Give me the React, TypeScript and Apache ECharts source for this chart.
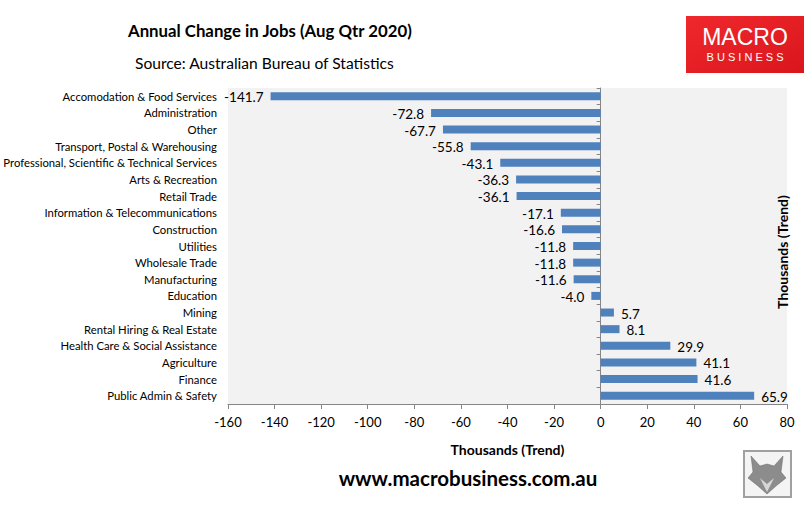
import React, { useEffect, useRef } from "react";
import * as echarts from "echarts";

const categories = [
  "Accomodation & Food Services",
  "Administration",
  "Other",
  "Transport, Postal & Warehousing",
  "Professional, Scientific & Technical Services",
  "Arts & Recreation",
  "Retail Trade",
  "Information & Telecommunications",
  "Construction",
  "Utilities",
  "Wholesale Trade",
  "Manufacturing",
  "Education",
  "Mining",
  "Rental Hiring & Real Estate",
  "Health Care & Social Assistance",
  "Agriculture",
  "Finance",
  "Public Admin & Safety",
];

const values = [
  -141.7, -72.8, -67.7, -55.8, -43.1, -36.3, -36.1, -17.1, -16.6, -11.8, -11.8,
  -11.6, -4.0, 5.7, 8.1, 29.9, 41.1, 41.6, 65.9,
];

const xTicks = { min: -160, max: 80, interval: 20 };

const titleText = "Annual Change in Jobs (Aug Qtr 2020)";
const sourceText = "Source: Australian Bureau of Statistics";
const axisName = "Thousands (Trend)";
const siteText = "www.macrobusiness.com.au";

const FONT = "Lato, 'Open Sans', sans-serif";

export default function App() {
  const ref = useRef<HTMLDivElement>(null);

  useEffect(() => {
    if (!ref.current) return;
    const chart = echarts.init(ref.current, undefined, { renderer: "svg" });

    const data = values.map((v) => ({
      value: v,
      label: {
        show: true,
        position: v < 0 ? "left" : "right",
        distance: 7,
        formatter: (p: any) => Number(p.value).toFixed(1),
        color: "#000",
        fontSize: 13.5,
        fontFamily: FONT,
        offset: [0, 1],
      },
    }));

    chart.setOption({
      animation: false,
      backgroundColor: "#fff",
      textStyle: { fontFamily: FONT },
      grid: {
        left: 226,
        right: 24,
        top: 88,
        bottom: 110,
        show: true,
        backgroundColor: "#f2f2f2",
        borderWidth: 0,
        containLabel: false,
      },
      xAxis: {
        type: "value",
        min: xTicks.min,
        max: xTicks.max,
        interval: xTicks.interval,
        splitLine: { show: false },
        axisLine: { show: true, onZero: false, lineStyle: { color: "#868686", width: 1 } },
        axisTick: { show: true, length: 5, lineStyle: { color: "#868686" } },
        axisLabel: { color: "#000", fontSize: 13, fontFamily: FONT, margin: 11 },
        name: axisName,
        nameLocation: "middle",
        nameGap: 38,
        nameTextStyle: { color: "#000", fontSize: 14, fontWeight: "bold", fontFamily: FONT },
      },
      yAxis: [
        {
          type: "category",
          data: categories,
          inverse: true,
          position: "left",
          axisLine: { show: false, onZero: false },
          axisTick: { show: false },
          axisLabel: { color: "#000", fontSize: 11.3, fontFamily: FONT, margin: 11 },
        },
        {
          type: "category",
          data: categories,
          inverse: true,
          position: "left",
          axisLine: { show: true, onZero: true, lineStyle: { color: "#868686", width: 1 } },
          axisTick: { show: true, length: 4, lineStyle: { color: "#868686" } },
          axisLabel: { show: false },
        },
      ],
      series: [
        {
          type: "bar",
          yAxisIndex: 0,
          data,
          barWidth: 8,
          itemStyle: { color: "#4f81bd" },
        },
      ],
      graphic: [
        {
          type: "text",
          x: 128,
          y: 30,
          style: {
            text: titleText,
            fill: "#000",
            fontSize: 16.8,
            fontWeight: "bold",
            fontFamily: FONT,
            verticalAlign: "middle",
          },
        },
        {
          type: "text",
          x: 135,
          y: 63,
          style: {
            text: sourceText,
            fill: "#000",
            fontSize: 15.6,
            fontFamily: FONT,
            verticalAlign: "middle",
          },
        },
        {
          type: "rect",
          shape: { x: 686, y: 16, width: 118, height: 57 },
          style: {
            fill: new echarts.graphic.LinearGradient(0, 0, 1, 1, [
              { offset: 0, color: "#f0282d" },
              { offset: 1, color: "#d9161c" },
            ]),
          },
        },
        {
          type: "text",
          x: 745,
          y: 37,
          style: {
            text: "MACRO",
            fill: "#fff",
            fontSize: 23,
            fontFamily: "'Liberation Sans', sans-serif",
            align: "center",
            verticalAlign: "middle",
          },
        },
        {
          type: "text",
          x: 745,
          y: 57,
          style: {
            text: "B U S I N E S S",
            fill: "#fff",
            fontSize: 11,
            fontFamily: "'Liberation Sans', sans-serif",
            align: "center",
            verticalAlign: "middle",
          },
        },
        {
          type: "text",
          x: 782,
          y: 252,
          rotation: Math.PI / 2,
          style: {
            text: axisName,
            fill: "#000",
            fontSize: 14,
            fontWeight: "bold",
            fontFamily: FONT,
            align: "center",
            verticalAlign: "middle",
          },
        },
        {
          type: "text",
          x: 468,
          y: 478,
          style: {
            text: siteText,
            fill: "#000",
            fontSize: 20.5,
            fontWeight: "bold",
            fontFamily: FONT,
            align: "center",
            verticalAlign: "middle",
          },
        },
        {
          type: "rect",
          shape: { x: 744, y: 451, width: 47, height: 46 },
          style: { fill: "#f4f4f4", stroke: "#a0a0a0", lineWidth: 2 },
        },
        {
          type: "polygon",
          shape: {
            points: [
              [751, 456], [760, 466], [767, 464], [774, 466], [783, 456],
              [781, 472], [786, 478], [776, 486], [767, 494], [758, 486],
              [748, 478], [753, 472],
            ],
          },
          style: { fill: "#8c8c8c", stroke: "#666", lineWidth: 0.5 },
        },
        {
          type: "polygon",
          shape: { points: [[760, 478], [767, 484], [774, 478], [767, 492]] },
          style: { fill: "#d6d6d6" },
        },
      ],
    });

    return () => chart.dispose();
  }, []);

  return (
    <div
      ref={ref}
      style={{ position: "absolute", left: 0, top: 0, width: 811, height: 514 }}
    />
  );
}
